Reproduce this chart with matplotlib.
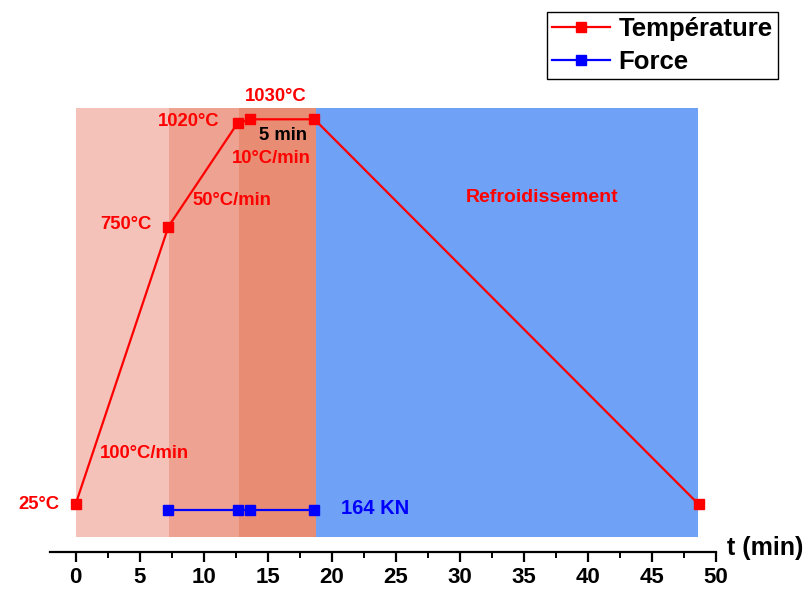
import matplotlib.pyplot as plt
from matplotlib.ticker import MultipleLocator

plt.rcParams['font.family'] = ['Liberation Sans', 'DejaVu Sans']
plt.rcParams['font.weight'] = 'bold'

# temperature cycle (min, °C)
temp_t = [0, 7.25, 12.65, 13.65, 18.65, 48.65]
temp_c = [25, 750, 1020, 1030, 1030, 25]

# applied force (min, kN)
force_t = [7.25, 12.65, 13.65, 18.65]
force_kn = [164, 164, 164, 164]

# shaded phases: start, end, colour
phase_bounds = [0, 7.3, 12.75, 18.8, 48.6]
phase_colors = ["#f5c2ba", "#eea292", "#e98c74", "#6fa1f6"]
phase_low, phase_high = -61, 1060

fig = plt.figure(figsize=(8.08, 5.93), dpi=100)
ax = fig.add_axes([0.0619, 0.0691, 0.824, 0.897])

for x0, x1, c in zip(phase_bounds[:-1], phase_bounds[1:], phase_colors):
    ax.fill_between([x0, x1], phase_low, phase_high, color=c, lw=0, zorder=0)

l_temp, = ax.plot(temp_t, temp_c, color="red", lw=1.6, marker="s", ms=6.5,
                  label="Température", zorder=3, clip_on=False)

ax.set_xlim(-2, 50)
ax.set_ylim(-100, 1289)

# force on a hidden second scale, 164 kN sitting near the bottom
ax2 = ax.twinx()
frac = (9 - (-100)) / 1389
span = 20000
ax2.set_ylim(164 - frac * span, 164 + (1 - frac) * span)
l_force, = ax2.plot(force_t, force_kn, color="blue", lw=1.6, marker="s", ms=6.5,
                    label="Force", zorder=3)
ax2.axis("off")

for s in ("top", "right", "left"):
    ax.spines[s].set_visible(False)
ax.spines["bottom"].set_linewidth(1.6)
ax.set_yticks([])
ax.xaxis.set_major_locator(MultipleLocator(5))
ax.xaxis.set_minor_locator(MultipleLocator(2.5))
ax.tick_params(axis="x", which="major", direction="out", length=7, width=1.6,
               labelsize=16, pad=4)
ax.tick_params(axis="x", which="minor", direction="out", length=4, width=1.4)
for lbl in ax.get_xticklabels():
    lbl.set_fontweight("bold")

fig.text(727 / 808, 1 - 548 / 593, "t (min)", fontsize=18, fontweight="bold",
         ha="left", va="center")

red_kw = dict(color="red", fontsize=13.3, fontweight="bold", va="center")
ax.text(-2.9, 25, "25°C", ha="center", clip_on=False, **red_kw)
ax.text(5.96, 756, "750°C", ha="right", **red_kw)
ax.text(11.2, 1025, "1020°C", ha="right", **red_kw)
ax.text(15.65, 1090, "1030°C", ha="center", **red_kw)
ax.text(16.2, 988, "5 min", ha="center", color="black", fontsize=13.3,
        fontweight="bold", va="center")
ax.text(15.3, 928, "10°C/min", ha="center", **red_kw)
ax.text(12.2, 818, "50°C/min", ha="center", **red_kw)
ax.text(5.4, 158, "100°C/min", ha="center", **red_kw)
ax.text(36.4, 826, "Refroidissement", ha="center", color="red", fontsize=14,
        fontweight="bold", va="center")
ax.text(23.4, 14.6, "164 KN", ha="center", color="blue", fontsize=14.5,
        fontweight="bold", va="center")

leg = fig.legend([l_temp, l_force], ["Température", "Force"], loc="upper right",
                 bbox_to_anchor=(778 / 808, 1 - 11.7 / 593), fancybox=False,
                 edgecolor="black", framealpha=1, handlelength=2.25,
                 handletextpad=0.35, labelspacing=0.35, borderpad=0.2,
                 borderaxespad=0, prop={"weight": "bold", "size": 18.5})
leg.get_frame().set_linewidth(1.0)

fig.savefig("out.png", dpi=100)
